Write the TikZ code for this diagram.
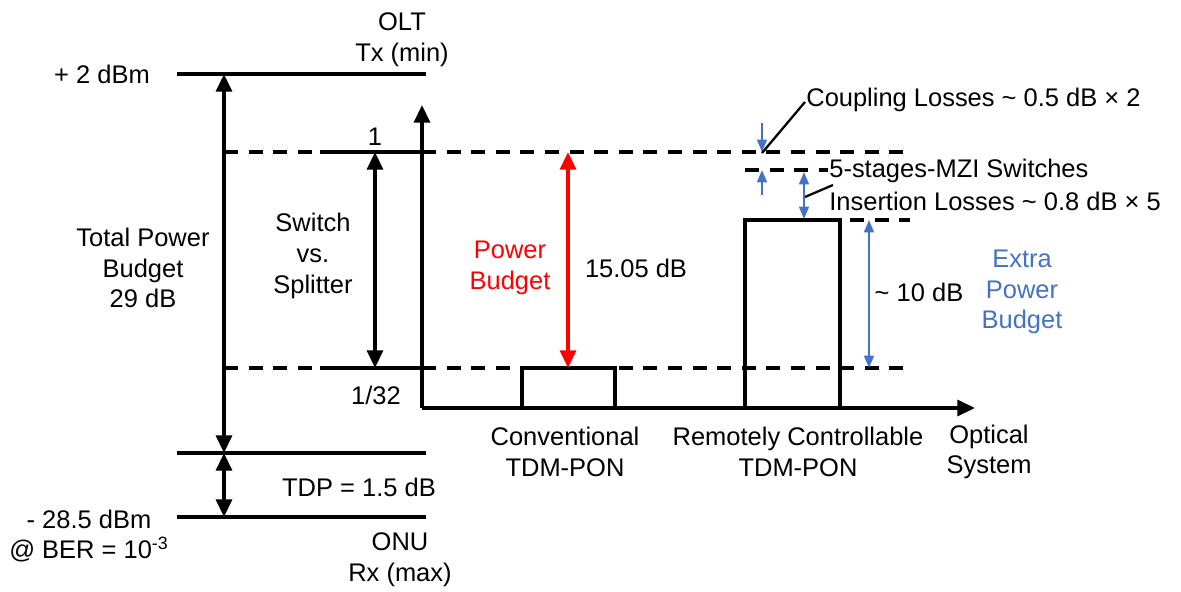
\documentclass[tikz,border=0pt]{standalone}
\usepackage{fontspec}
\setmainfont{Liberation Sans}
\usetikzlibrary{arrows.meta}
\definecolor{myblue}{RGB}{68,114,196}
\begin{document}
\begin{tikzpicture}[x=0.02cm,y=-0.02cm,
  every node/.style={font=\fontsize{14.5}{17.5}\selectfont, inner sep=0pt, align=center},
  solidline/.style={line width=2pt},
  dashline/.style={line width=2pt, dash pattern=on 8pt off 6pt},
  darr/.style={line width=2pt, {Triangle[length=10pt,width=9pt]}-{Triangle[length=10pt,width=9pt]}},
  axarr/.style={line width=2pt, -{Triangle[length=10pt,width=9pt]}},
  barr/.style={line width=1.3pt, myblue, -{Triangle[length=7pt,width=5.5pt]}},
  bdarr/.style={line width=1.3pt, myblue, {Triangle[length=7pt,width=5.5pt]}-{Triangle[length=7pt,width=5.5pt]}},
  leader/.style={line width=1.3pt}]
\useasboundingbox (0,0) rectangle (1181,592);

% level coordinates
\coordinate (topL) at (177,74);   \coordinate (topR) at (426,74);
\coordinate (rxL) at (177,453);   \coordinate (rxR) at (426,453);
\coordinate (berL) at (177,517);  \coordinate (berR) at (426,517);
\coordinate (oneA) at (224,152);  \coordinate (oneB) at (320,152);
\coordinate (oneC) at (422,152);  \coordinate (oneD) at (912,152);
\coordinate (lowA) at (224,368);  \coordinate (lowB) at (320,368);
\coordinate (lowC) at (422,368);  \coordinate (lowD) at (913,368);
\coordinate (orig) at (422,408);
\coordinate (yTip) at (422,105);
\coordinate (xTip) at (975,408);

% horizontal levels
\draw[solidline] (topL) -- (topR);
\draw[solidline] (rxL) -- (rxR);
\draw[solidline] (berL) -- (berR);
\draw[dashline] (oneA) -- (oneB);
\draw[solidline] (oneB) -- (oneC);
\draw[dashline] (oneC) -- (oneD);
\draw[dashline] (lowA) -- (lowB);
\draw[solidline] (lowB) -- (lowC);
\draw[dashline] (lowC) -- (lowD);
\draw[dashline] (745,170) coordinate (mziA) -- (828,170) coordinate (mziB);
\draw[dashline] (850,220) coordinate (remA) -- (910,220) coordinate (remB);

% axes
\draw[axarr] (orig) -- (yTip);
\draw[axarr] (orig) -- (xTip);

% boxes
\draw[solidline] (522,408) rectangle (615,368);
\draw[solidline] (745,408) -- (745,220) -- (840,220) -- (840,408);

% arrows
\draw[darr] (224,74) -- (224,453);
\draw[darr] (224,453) -- (224,517);
\draw[darr] (375,152) -- (375,368);
\draw[darr, red] (568,152) -- (568,368);
\draw[bdarr] (869,220) -- (869,368);
\draw[bdarr] (804,172) -- (804,219);
\draw[barr] (762,123) -- (762,152);
\draw[barr] (762,195) -- (762,170);

% leader lines
\draw[leader] (762,153) -- (805,102);
\draw[leader] (805,197) -- (833,185);

% texts
\node (plus2) at (102,74) {+ 2 dBm};
\node (olt) at (402,40) {OLT\\Tx (min)};
\node (one) at (375,137) {1};
\node (n132) at (376,395) {1/32};
\node (tpb) at (143,268) {Total Power\\Budget\\29 dB};
\node (svs) at (313,256) {Switch\\vs.\\Splitter};
\node[text=red] (pb) at (510,268) {Power\\Budget};
\node (db1505) at (636,268) {15.05 dB};
\node (db10) at (919,292) {\textasciitilde{} 10 dB};
\node[text=myblue] (epb) at (1022,292) {Extra\\Power\\Budget};
\node[anchor=west] (coup) at (806,100) {Coupling Losses \textasciitilde{} 0.5 dB × 2};
\node[anchor=west] (mzi) at (829,171) {5-stages-MZI Switches};
\node[anchor=west] (ins) at (829,201) {Insertion Losses \textasciitilde{} 0.8 dB × 5};
\node (tdp) at (359,487) {TDP = 1.5 dB};
\node (ber) at (89,536) {- 28.5 dBm\\@ BER = 10\textsuperscript{-3}};
\node (onu) at (400,560) {ONU\\Rx (max)};
\node (conv) at (565,452) {Conventional\\TDM-PON};
\node (rem) at (798,452) {Remotely Controllable\\TDM-PON};
\node (opt) at (989,452) {Optical\\System};
\end{tikzpicture}
\end{document}
